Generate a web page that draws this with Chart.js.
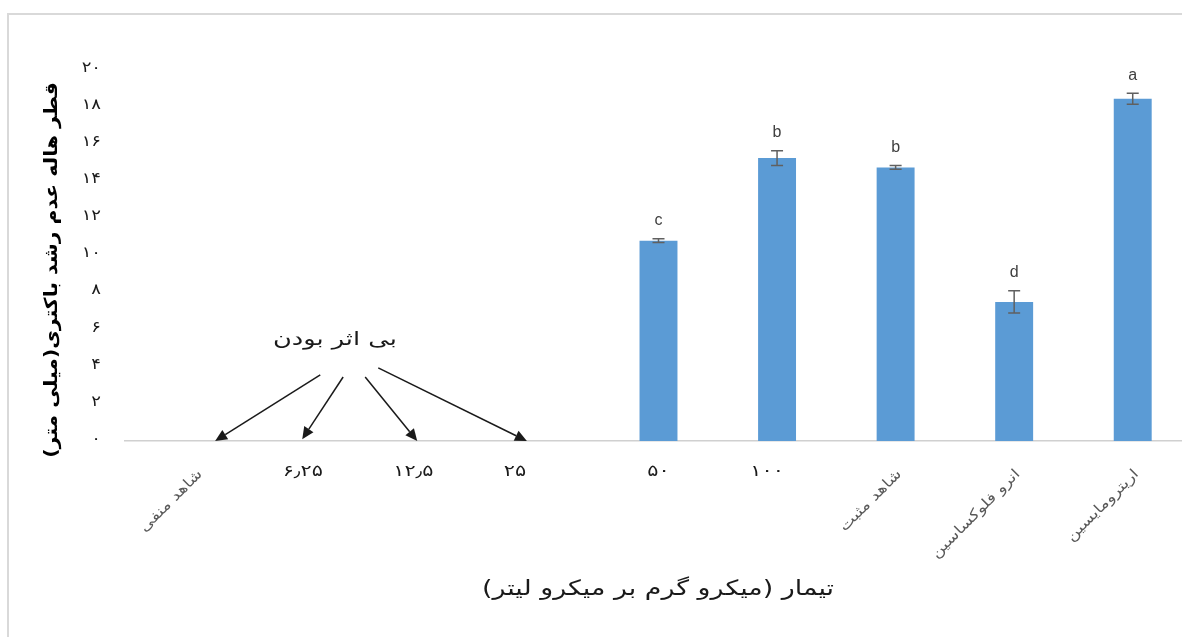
<!DOCTYPE html>
<html>
<head>
<meta charset="utf-8">
<script src="https://cdn.jsdelivr.net/npm/chart.js@4/dist/chart.umd.min.js"></script>
<style>
  html, body { margin: 0; padding: 0; background: #fff; overflow: hidden; width: 1182px; height: 637px; }
  #frame { position: absolute; left: 7px; top: 13px; width: 1250px; height: 700px;
           border-left: 2px solid #d9d9d9; border-top: 2px solid #d9d9d9; }
  #wrap { position: absolute; left: 0; top: 0; width: 1194px; height: 637px; }
  canvas { direction: rtl; }
</style>
</head>
<body>
<div id="frame"></div>
<div id="wrap"><canvas id="c" width="1194" height="637"></canvas></div>
<script>
// ---- data ----
const categories = ['شاهد منفی', '۶٫۲۵', '۱۲٫۵', '۲۵', '۵۰', '۱۰۰', 'شاهد مثبت', 'انرو فلوکساسین', 'اریترومایسین'];
const zoneDiameter = [0, 0, 0, 0, 10.8, 15.25, 14.75, 7.5, 18.45];
const errorValues = [0, 0, 0, 0, 0.1, 0.4, 0.1, 0.6, 0.3];
const groupLetters = ['', '', '', '', 'c', 'b', 'b', 'd', 'a'];
const yTickValues = [0, 2, 4, 6, 8, 10, 12, 14, 16, 18, 20];
const yTitle = 'قطر هاله عدم رشد باکتری(میلی متر)';
const xTitle = 'تیمار (میکرو گرم بر میکرو لیتر)';
const noteText = 'بی اثر بودن';
// annotation arrows in data space: [xIndex, yValue]
const noteAnchor = [1.27, 5.44];
const arrowTails = [[1.147, 3.56], [1.34, 3.45], [1.526, 3.45], [1.636, 3.94]];
const arrowTips  = [[0.26, 0], [0.995, 0.1], [1.965, 0], [2.89, 0]];

const faDigits = '۰۱۲۳۴۵۶۷۸۹';
const fa = n => String(n).replace(/\d/g, d => faDigits[d]);
const FA_FONT = '"DejaVu Sans", sans-serif';

// draw text with a horizontal stretch (the original uses a wider Arabic face)
function stretchText(ctx, text, x, y, font, color, sx, align, rot) {
  ctx.save();
  ctx.translate(x, y);
  if (rot) ctx.rotate(rot);
  ctx.scale(sx, 1);
  ctx.font = font;
  ctx.fillStyle = color;
  ctx.textAlign = align;
  ctx.textBaseline = 'middle';
  ctx.fillText(text, 0, 0);
  ctx.restore();
}

const overlay = {
  id: 'overlay',
  afterDatasetsDraw(chart, args, opts) {
    const ctx = chart.ctx, x = chart.scales.x, y = chart.scales.y;
    ctx.save();
    // error bars
    ctx.strokeStyle = '#606060';
    ctx.lineWidth = 1.5;
    zoneDiameter.forEach((v, i) => {
      const e = errorValues[i];
      if (!e) return;
      const px = x.getPixelForValue(i);
      const top = y.getPixelForValue(v + e), bot = y.getPixelForValue(v - e);
      ctx.beginPath();
      ctx.moveTo(px, top); ctx.lineTo(px, bot);
      ctx.moveTo(px - 6, top); ctx.lineTo(px + 6, top);
      ctx.moveTo(px - 6, bot); ctx.lineTo(px + 6, bot);
      ctx.stroke();
    });
    // group letters
    ctx.fillStyle = '#404040';
    ctx.font = '16px "Liberation Sans", Arial, sans-serif';
    ctx.textAlign = 'center';
    ctx.textBaseline = 'middle';
    groupLetters.forEach((t, i) => {
      if (!t) return;
      const px = x.getPixelForValue(i);
      const top = y.getPixelForValue(zoneDiameter[i] + errorValues[i]);
      ctx.fillText(t, px, top - 18);
    });
    // y tick labels
    yTickValues.forEach(v => {
      stretchText(ctx, fa(v), x.left - 24, y.getPixelForValue(v) - 2,
        '15px ' + FA_FONT, '#1a1a1a', 1.2, 'right');
    });
    // y title
    stretchText(ctx, yTitle, 52, 270, 'bold 18px ' + FA_FONT, '#000', 1.13, 'center', -Math.PI / 2);
    // x title
    stretchText(ctx, xTitle, 658, 590, '21px ' + FA_FONT, '#1a1a1a', 1.28, 'center');
    // x category labels
    const nudges = opts.labelNudge || [];
    categories.forEach((lab, i) => {
      const px = x.getPixelForValue(i) + (nudges[i] || 0);
      const numeric = /^[۰-۹٫]+$/.test(lab);
      if (numeric) {
        stretchText(ctx, lab, px, y.bottom + 31, '16px ' + FA_FONT, '#1a1a1a', 1.3, 'center');
      } else {
        stretchText(ctx, lab, px, y.bottom + 31, '14px ' + FA_FONT, '#595959', 1.25, 'right', -Math.PI / 4);
      }
    });
    // annotation text and arrows
    stretchText(ctx, noteText, x.getPixelForValue(noteAnchor[0]), y.getPixelForValue(noteAnchor[1]),
      '19px ' + FA_FONT, '#1a1a1a', 1.35, 'center');
    ctx.strokeStyle = '#1a1a1a';
    ctx.fillStyle = '#1a1a1a';
    ctx.lineWidth = 1.5;
    arrowTails.forEach((t, k) => {
      const x0 = x.getPixelForValue(t[0]), y0 = y.getPixelForValue(t[1]);
      const x1 = x.getPixelForValue(arrowTips[k][0]), y1 = y.getPixelForValue(arrowTips[k][1]);
      const ang = Math.atan2(y1 - y0, x1 - x0);
      const L = 12, W = 5.5;
      const bx = x1 - L * Math.cos(ang), by = y1 - L * Math.sin(ang);
      ctx.beginPath(); ctx.moveTo(x0, y0); ctx.lineTo(bx, by); ctx.stroke();
      ctx.beginPath();
      ctx.moveTo(x1, y1);
      ctx.lineTo(bx + W * Math.sin(ang), by - W * Math.cos(ang));
      ctx.lineTo(bx - W * Math.sin(ang), by + W * Math.cos(ang));
      ctx.closePath(); ctx.fill();
    });
    ctx.restore();
  }
};

new Chart(document.getElementById('c'), {
  type: 'bar',
  data: {
    labels: categories,
    datasets: [{
      data: zoneDiameter,
      backgroundColor: '#5B9BD5',
      borderWidth: 0,
      categoryPercentage: 1,
      barPercentage: 0.32
    }]
  },
  options: {
    responsive: false,
    devicePixelRatio: 1,
    animation: false,
    layout: { padding: { left: 38, right: 2, top: 70, bottom: 0 } },
    plugins: {
      legend: { display: false },
      tooltip: { enabled: false },
      overlay: { labelNudge: [16, 0, -8, -25, 0, -10, 4, 4, 4] }
    },
    scales: {
      x: {
        grid: { display: false },
        border: { display: true, color: '#d0d0d0', width: 1.5 },
        ticks: { display: false },
        afterFit: s => { s.height = 196; }
      },
      y: {
        min: 0, max: 20,
        afterBuildTicks: s => { s.ticks = yTickValues.map(v => ({ value: v })); },
        grid: { display: false, drawTicks: false },
        border: { display: false },
        ticks: { display: false },
        afterFit: s => { s.width = 87; }
      }
    }
  },
  plugins: [overlay]
});
</script>
</body>
</html>
